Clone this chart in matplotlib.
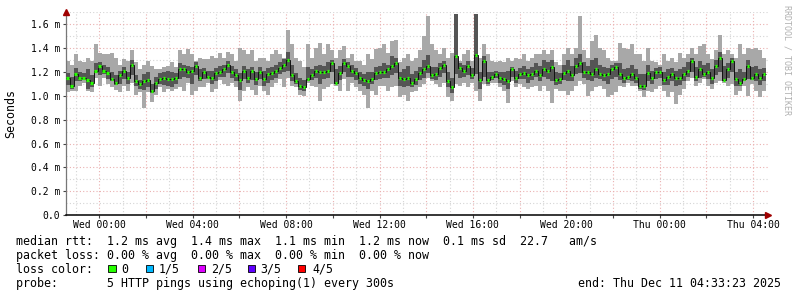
import numpy as np
import matplotlib
matplotlib.use("Agg")
import matplotlib.pyplot as plt
from matplotlib.patches import Rectangle
from matplotlib.ticker import MultipleLocator, FuncFormatter

# smokeping: 5 pings every 300s, values in ms, sorted ping ranks per step
rtt_min = [1.03, 1.04, 1.04, 1.08, 1.11, 1.04, 1.03, 1.15, 1.08, 1.15, 1.10, 1.07, 1.05, 1.03, 1.08, 1.04, 1.11, 1.01,
           1.03, 0.90, 1.03, 0.95, 1.01, 1.07, 1.03, 1.06, 1.04, 1.06, 1.07, 1.04, 1.11, 1.01, 1.04, 1.07, 1.07, 1.11,
           1.03, 1.06, 1.13, 1.10, 1.08, 1.11, 1.07, 0.96, 1.04, 1.07, 1.05, 1.01, 1.08, 1.04, 1.01, 1.07, 1.11, 1.14,
           1.07, 1.15, 1.08, 1.07, 1.01, 1.00, 1.11, 1.08, 1.07, 0.96, 1.06, 1.07, 1.10, 1.08, 1.04, 1.14, 1.04, 1.11,
           1.07, 1.04, 1.01, 0.90, 1.04, 1.01, 1.08, 1.08, 1.04, 1.07, 1.08, 0.99, 1.01, 0.96, 1.03, 1.04, 1.07, 1.10,
           1.15, 1.12, 1.10, 1.07, 1.11, 0.99, 0.96, 1.10, 1.08, 1.11, 1.07, 1.11, 1.04, 0.96, 1.10, 1.08, 1.11, 1.11,
           1.07, 1.04, 0.94, 1.12, 1.07, 1.10, 1.07, 1.06, 1.07, 1.08, 1.04, 1.08, 1.04, 0.94, 1.06, 1.04, 1.04, 1.01,
           1.04, 1.08, 1.12, 1.10, 1.00, 1.04, 1.07, 1.08, 1.06, 0.99, 1.01, 1.03, 1.08, 1.07, 1.11, 1.08, 1.08, 1.04,
           0.99, 1.04, 1.03, 1.06, 1.08, 1.04, 0.99, 1.03, 0.93, 1.01, 1.06, 1.12, 1.15, 1.08, 1.11, 1.14, 1.08, 1.06,
           1.11, 1.12, 1.11, 1.08, 1.10, 1.01, 1.04, 1.08, 1.00, 1.10, 1.04, 0.99, 1.04]
rtt_p2 = [1.09, 1.06, 1.12, 1.12, 1.13, 1.06, 1.07, 1.19, 1.17, 1.18, 1.14, 1.12, 1.09, 1.10, 1.14, 1.10, 1.17, 1.08,
          1.06, 1.05, 1.07, 1.02, 1.06, 1.10, 1.09, 1.08, 1.07, 1.10, 1.14, 1.16, 1.15, 1.10, 1.17, 1.12, 1.14, 1.14,
          1.10, 1.12, 1.16, 1.16, 1.19, 1.15, 1.12, 1.05, 1.14, 1.11, 1.13, 1.09, 1.14, 1.08, 1.11, 1.13, 1.15, 1.18,
          1.20, 1.21, 1.12, 1.10, 1.05, 1.04, 1.12, 1.13, 1.15, 1.10, 1.14, 1.15, 1.20, 1.10, 1.13, 1.20, 1.16, 1.16,
          1.13, 1.10, 1.08, 1.06, 1.10, 1.13, 1.14, 1.15, 1.15, 1.17, 1.19, 1.08, 1.07, 1.08, 1.07, 1.09, 1.13, 1.15,
          1.19, 1.14, 1.13, 1.16, 1.19, 1.07, 1.02, 1.18, 1.15, 1.16, 1.17, 1.14, 1.18, 1.06, 1.16, 1.10, 1.13, 1.15,
          1.11, 1.09, 1.06, 1.16, 1.11, 1.14, 1.14, 1.11, 1.13, 1.16, 1.12, 1.16, 1.14, 1.12, 1.09, 1.10, 1.13, 1.12,
          1.12, 1.18, 1.19, 1.15, 1.13, 1.12, 1.15, 1.14, 1.12, 1.10, 1.14, 1.16, 1.13, 1.11, 1.13, 1.12, 1.11, 1.06,
          1.05, 1.12, 1.10, 1.14, 1.15, 1.09, 1.09, 1.12, 1.08, 1.09, 1.12, 1.16, 1.20, 1.12, 1.15, 1.16, 1.14, 1.10,
          1.17, 1.20, 1.12, 1.15, 1.20, 1.08, 1.08, 1.12, 1.14, 1.13, 1.12, 1.09, 1.12]
rtt_median = [1.15, 1.08, 1.18, 1.15, 1.15, 1.13, 1.11, 1.21, 1.25, 1.21, 1.19, 1.14, 1.11, 1.17, 1.21, 1.15, 1.26, 1.12,
              1.10, 1.12, 1.13, 1.04, 1.11, 1.14, 1.15, 1.14, 1.14, 1.15, 1.22, 1.22, 1.20, 1.21, 1.25, 1.15, 1.20, 1.16,
              1.15, 1.19, 1.20, 1.22, 1.26, 1.20, 1.17, 1.13, 1.21, 1.15, 1.21, 1.14, 1.20, 1.14, 1.18, 1.19, 1.21, 1.23,
              1.26, 1.30, 1.17, 1.12, 1.08, 1.07, 1.14, 1.17, 1.21, 1.20, 1.20, 1.21, 1.27, 1.11, 1.19, 1.27, 1.25, 1.21,
              1.19, 1.15, 1.13, 1.12, 1.14, 1.19, 1.20, 1.20, 1.22, 1.25, 1.27, 1.15, 1.14, 1.15, 1.11, 1.14, 1.19, 1.22,
              1.25, 1.17, 1.18, 1.23, 1.26, 1.12, 1.07, 1.33, 1.23, 1.21, 1.25, 1.17, 1.34, 1.13, 1.29, 1.13, 1.16, 1.18,
              1.15, 1.14, 1.12, 1.22, 1.15, 1.18, 1.19, 1.17, 1.18, 1.21, 1.17, 1.22, 1.21, 1.24, 1.13, 1.14, 1.19, 1.21,
              1.17, 1.25, 1.27, 1.20, 1.20, 1.18, 1.22, 1.18, 1.17, 1.18, 1.22, 1.24, 1.18, 1.15, 1.16, 1.18, 1.15, 1.08,
              1.08, 1.19, 1.15, 1.20, 1.20, 1.13, 1.16, 1.18, 1.15, 1.15, 1.18, 1.21, 1.29, 1.16, 1.22, 1.18, 1.20, 1.15,
              1.25, 1.32, 1.13, 1.22, 1.29, 1.14, 1.11, 1.14, 1.25, 1.15, 1.18, 1.15, 1.18]
rtt_p4 = [1.19, 1.16, 1.23, 1.20, 1.19, 1.22, 1.17, 1.27, 1.28, 1.26, 1.24, 1.20, 1.17, 1.21, 1.24, 1.20, 1.30, 1.17,
          1.13, 1.18, 1.20, 1.10, 1.16, 1.19, 1.20, 1.21, 1.20, 1.19, 1.27, 1.26, 1.25, 1.24, 1.28, 1.22, 1.23, 1.21,
          1.21, 1.23, 1.25, 1.26, 1.29, 1.25, 1.22, 1.19, 1.25, 1.22, 1.24, 1.20, 1.24, 1.21, 1.23, 1.24, 1.26, 1.28,
          1.31, 1.37, 1.26, 1.19, 1.15, 1.13, 1.24, 1.22, 1.25, 1.26, 1.25, 1.28, 1.30, 1.22, 1.25, 1.31, 1.28, 1.26,
          1.23, 1.20, 1.18, 1.20, 1.20, 1.24, 1.25, 1.27, 1.26, 1.33, 1.32, 1.20, 1.22, 1.25, 1.18, 1.21, 1.24, 1.30,
          1.34, 1.24, 1.24, 1.27, 1.29, 1.20, 1.15, 1.68, 1.27, 1.26, 1.29, 1.23, 1.68, 1.20, 1.33, 1.20, 1.20, 1.21,
          1.20, 1.20, 1.21, 1.24, 1.21, 1.23, 1.25, 1.22, 1.24, 1.27, 1.25, 1.30, 1.28, 1.30, 1.20, 1.19, 1.26, 1.30,
          1.25, 1.32, 1.35, 1.28, 1.25, 1.30, 1.32, 1.26, 1.24, 1.23, 1.26, 1.27, 1.27, 1.22, 1.23, 1.26, 1.22, 1.18,
          1.18, 1.26, 1.21, 1.23, 1.24, 1.20, 1.22, 1.23, 1.21, 1.22, 1.24, 1.28, 1.32, 1.24, 1.29, 1.26, 1.27, 1.22,
          1.30, 1.37, 1.25, 1.27, 1.32, 1.20, 1.22, 1.20, 1.30, 1.24, 1.25, 1.22, 1.23]
rtt_max = [1.29, 1.26, 1.35, 1.29, 1.28, 1.32, 1.29, 1.43, 1.36, 1.35, 1.35, 1.36, 1.32, 1.26, 1.31, 1.29, 1.38, 1.28,
           1.22, 1.26, 1.29, 1.25, 1.22, 1.22, 1.24, 1.25, 1.28, 1.24, 1.38, 1.35, 1.39, 1.35, 1.29, 1.32, 1.31, 1.31,
           1.33, 1.32, 1.36, 1.32, 1.37, 1.35, 1.29, 1.40, 1.38, 1.35, 1.38, 1.29, 1.32, 1.32, 1.29, 1.35, 1.38, 1.35,
           1.32, 1.55, 1.43, 1.32, 1.29, 1.24, 1.43, 1.32, 1.40, 1.44, 1.35, 1.43, 1.38, 1.32, 1.38, 1.42, 1.32, 1.35,
           1.29, 1.29, 1.26, 1.35, 1.31, 1.39, 1.40, 1.43, 1.36, 1.46, 1.47, 1.28, 1.32, 1.35, 1.29, 1.32, 1.38, 1.50,
           1.67, 1.43, 1.38, 1.35, 1.40, 1.32, 1.36, 1.68, 1.29, 1.35, 1.38, 1.29, 1.68, 1.32, 1.43, 1.35, 1.29, 1.28,
           1.29, 1.28, 1.32, 1.29, 1.32, 1.31, 1.35, 1.29, 1.32, 1.35, 1.35, 1.38, 1.35, 1.38, 1.28, 1.26, 1.35, 1.40,
           1.35, 1.40, 1.67, 1.38, 1.32, 1.46, 1.51, 1.40, 1.38, 1.32, 1.29, 1.29, 1.44, 1.40, 1.39, 1.43, 1.35, 1.35,
           1.29, 1.40, 1.29, 1.28, 1.26, 1.35, 1.29, 1.32, 1.28, 1.36, 1.32, 1.35, 1.40, 1.35, 1.42, 1.43, 1.35, 1.31,
           1.38, 1.51, 1.35, 1.38, 1.35, 1.32, 1.43, 1.35, 1.40, 1.39, 1.40, 1.38, 1.32]

# hours relative to Wed 00:00, graph covers 30h ending Thu 04:33:23
t_start, t_end = -1.44, 28.556
x_ticks = [0, 2, 4, 6, 8, 10, 12, 14, 16, 18, 20, 22, 24, 26, 28]
x_tick_labels = ["Wed 00:00", "", "Wed 04:00", "", "Wed 08:00", "", "Wed 12:00", "",
                 "Wed 16:00", "", "Wed 20:00", "", "Thu 00:00", "", "Thu 04:00"]

loss_labels = ["0", "1/5", "2/5", "3/5", "4/5"]
loss_colors = ["#26ff00", "#00b8ff", "#dd00ff", "#6000ff", "#ff0000"]

stats_lines = [
    "median rtt:  1.2 ms avg  1.4 ms max  1.1 ms min  1.2 ms now  0.1 ms sd  22.7   am/s",
    "packet loss: 0.00 % avg  0.00 % max  0.00 % min  0.00 % now",
]
probe_line = "probe:       5 HTTP pings using echoping(1) every 300s"
end_line = "end: Thu Dec 11 04:33:23 2025"

mono = "DejaVu Sans Mono"
W, H = 797, 297

fig = plt.figure(figsize=(W / 100, H / 100), dpi=100)
ax = fig.add_axes([66 / W, (H - 215.3) / H, (768 - 66) / W, (215.3 - 12.1) / H])

edges = np.linspace(t_start, t_end, len(rtt_median) + 1)
step = edges[1] - edges[0]
ax.stairs(rtt_max, edges, baseline=rtt_min, fill=True, color="#a8a8a8", lw=0, zorder=2)
ax.stairs(rtt_p4, edges, baseline=rtt_p2, fill=True, color="#555555", lw=0, zorder=3)
ax.stairs(rtt_median, edges, baseline=None, color="#111111", lw=0.7, zorder=4)
# green loss-coloured median blobs, a bit shorter than a step so they look like dots
ax.hlines(rtt_median, edges[:-1] + 0.2 * step, edges[1:] - 0.2 * step, colors=loss_colors[0], lw=2.3, zorder=5)

ax.set_xlim((66 - 99.3) / 23.35, (768 - 99.3) / 23.35)
ax.set_ylim(0, 1.7)

ax.set_xticks(x_ticks)
ax.set_xticklabels(x_tick_labels, fontfamily=mono, fontsize=7)
ax.xaxis.set_minor_locator(MultipleLocator(1))
ax.yaxis.set_major_locator(MultipleLocator(0.2))
ax.yaxis.set_minor_locator(MultipleLocator(0.1))
ax.yaxis.set_major_formatter(FuncFormatter(lambda v, p: "0.0" if abs(v) < 1e-9 else f"{v:.1f} m"))
for lab in ax.get_yticklabels():
    lab.set_fontfamily(mono)
ax.tick_params(axis="both", which="major", length=2, width=0.8, labelsize=7, color="#444444")
ax.tick_params(axis="y", which="major", pad=2.3)
ax.tick_params(axis="x", which="major", pad=1.5)
ax.tick_params(which="minor", length=0)

ax.grid(True, which="major", color="#eab0b0", linestyle=(0, (1, 2)), lw=0.8)
ax.grid(True, which="minor", color="#d4d4d4", linestyle=(0, (1, 2)), lw=0.8)
ax.set_axisbelow(True)

for s in ("top", "right"):
    ax.spines[s].set_visible(False)
ax.spines["left"].set_color("#777777")
ax.spines["left"].set_linewidth(0.9)
ax.spines["bottom"].set_color("black")
ax.spines["bottom"].set_linewidth(1.1)

# axis arrows
ax.plot([0], [1.0], marker="^", ms=4.5, color="#a00000", transform=ax.transAxes, clip_on=False, zorder=6)
ax.plot([1.0], [0], marker=">", ms=4.5, color="#a00000", transform=ax.transAxes, clip_on=False, zorder=6)

fig.text(11 / W, 1 - 114 / H, "Seconds", rotation=90, ha="center", va="center", fontfamily=mono, fontsize=8.4)
fig.text(787 / W, 1 - 60 / H, "RRDTOOL / TOBI OETIKER", rotation=270, ha="center", va="center",
         fontfamily=mono, fontsize=6, color="#b0b0b0")

# legend block
fs = 8.4
fig.text(16 / W, 1 - 245 / H, stats_lines[0], fontfamily=mono, fontsize=fs, va="baseline")
fig.text(16 / W, 1 - 259 / H, stats_lines[1], fontfamily=mono, fontsize=fs, va="baseline")
fig.text(16 / W, 1 - 272.7 / H, "loss color:", fontfamily=mono, fontsize=fs, va="baseline")
sq_x = [108.3, 145.7, 197.7, 247.7, 297.7]
lab_x = [121, 159, 211, 260, 312]
for c, lab, sx, lx in zip(loss_colors, loss_labels, sq_x, lab_x):
    fig.add_artist(Rectangle((sx / W, 1 - 272 / H), 7.4 / W, 7.4 / H, transform=fig.transFigure,
                             facecolor=c, edgecolor="black", lw=0.6))
    fig.text(lx / W, 1 - 272.7 / H, lab, fontfamily=mono, fontsize=fs, va="baseline")
fig.text(16 / W, 1 - 286.7 / H, probe_line, fontfamily=mono, fontsize=fs, va="baseline")
fig.text(781 / W, 1 - 286.7 / H, end_line, fontfamily=mono, fontsize=fs, va="baseline", ha="right")

fig.savefig("out.png", dpi=100, facecolor="white")
